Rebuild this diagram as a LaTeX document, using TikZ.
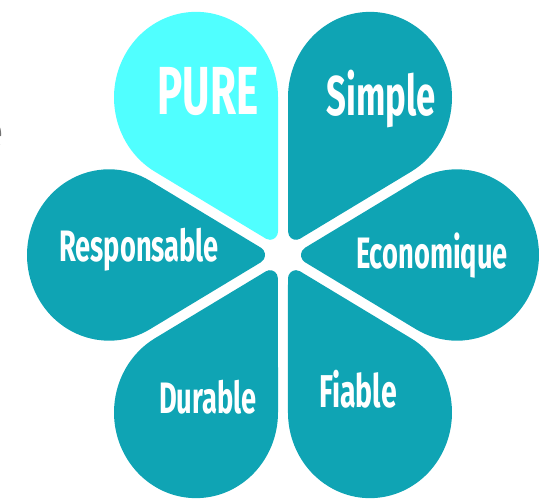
\documentclass[tikz,border=0pt]{standalone}
\usepackage{fontspec}
\setmainfont{Fira Sans}
\newfontfamily\petalfont[FakeStretch=0.62]{Fira Sans Bold}
\definecolor{petalteal}{RGB}{15,164,180}
\definecolor{petalcyan}{RGB}{80,255,255}
\definecolor{edgegrey}{RGB}{115,115,115}
\tikzset{
  petaltext/.style={text=white, inner sep=0pt, anchor=base, font=\petalfont},
}
% petal: #1 = axis angle, #2 = colour
\newcommand{\mypetal}[2]{%
  \fill[#2]
    ($(#1:10)+(#1-30:13.86)$) arc[start angle=#1-120, end angle=#1-240, radius=8]
    -- ($(#1:10)+(#1+30:142)$) arc[start angle=#1+120, end angle=#1-120, radius=82]
    -- cycle;}
\usetikzlibrary{calc}
\begin{document}
\begin{tikzpicture}[x=1pt,y=1pt]
\useasboundingbox (0,0) rectangle (542,499);
\begin{scope}[shift={(283,244)}, yscale=1.045]
  \mypetal{120}{petalcyan}
  \mypetal{60}{petalteal}
  \mypetal{0}{petalteal}
  \mypetal{-60}{petalteal}
  \mypetal{-120}{petalteal}
  \mypetal{180}{petalteal}
\end{scope}
\node[petaltext, font=\petalfont\fontsize{68}{68}\selectfont] (pure) at (208,384) {PURE};
\node[petaltext, font=\petalfont\fontsize{56}{56}\selectfont] (simple) at (381,383) {Simple};
\node[petaltext, font=\petalfont\fontsize{44}{44}\selectfont] (resp) at (139,237) {Responsable};
\node[petaltext, font=\petalfont\fontsize{44}{44}\selectfont] (eco) at (432,230) {Economique};
\node[petaltext, font=\petalfont\fontsize{44}{44}\selectfont] (dur) at (208,85) {Durable};
\node[petaltext, font=\petalfont\fontsize{46}{46}\selectfont] (fia) at (358,91) {Fiable};
\node[text=edgegrey, inner sep=0pt, anchor=base east, font=\fontsize{47}{47}\selectfont] (cut) at (4,351) {e};
\end{tikzpicture}
\end{document}
